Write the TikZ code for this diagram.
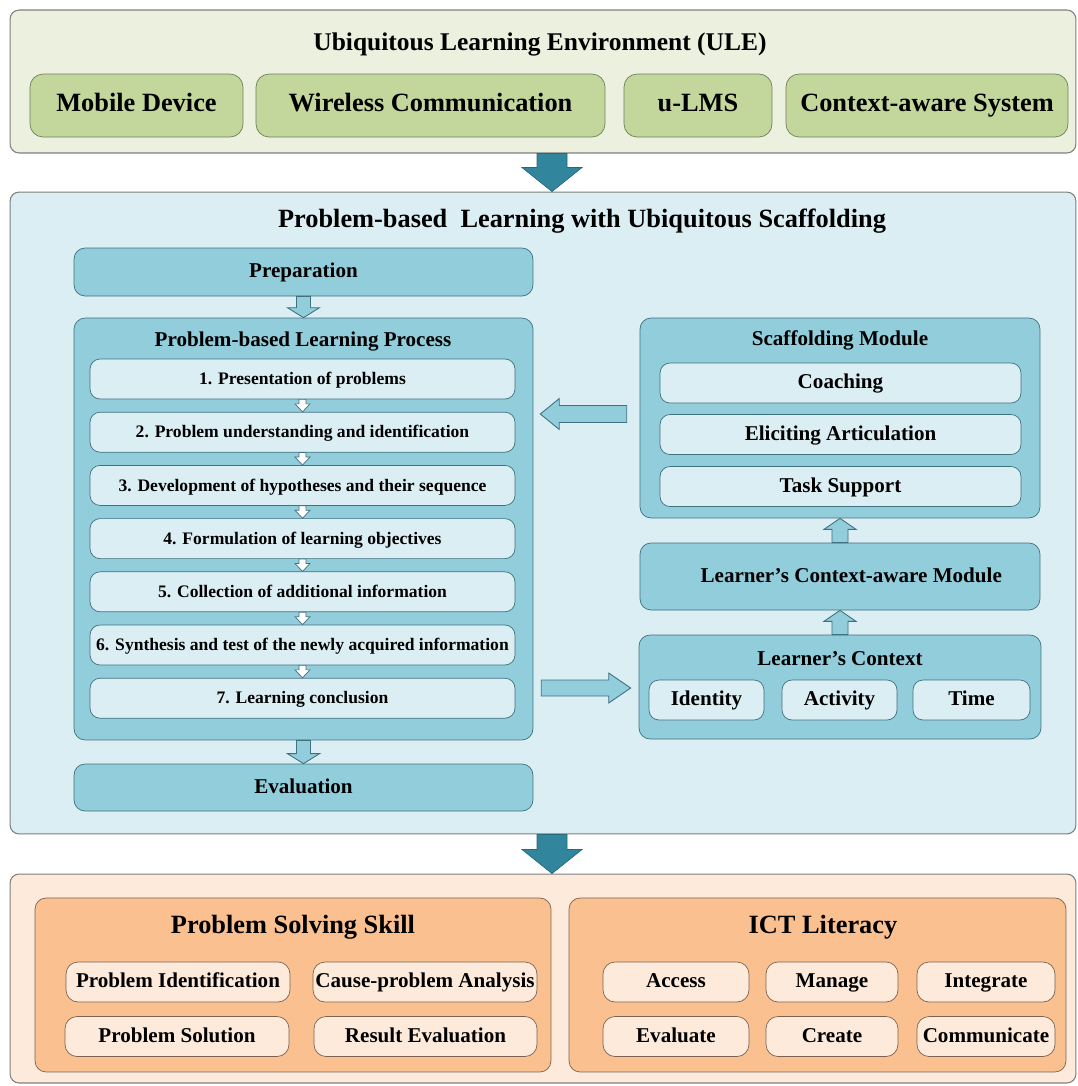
\documentclass[tikz,border=0pt]{standalone}
\usepackage{fontspec}
\setmainfont{Liberation Serif}
\usetikzlibrary{calc, positioning}
\definecolor{uleBack}{HTML}{EBF1DE}
\definecolor{uleGreen}{HTML}{C3D69B}
\definecolor{uleLine}{HTML}{6E7F5A}
\definecolor{pblBack}{HTML}{DBEEF4}
\definecolor{pblBlue}{HTML}{92CDDC}
\definecolor{pblLine}{HTML}{41707E}
\definecolor{outBack}{HTML}{FDEADA}
\definecolor{outOrange}{HTML}{FAC090}
\definecolor{outLine}{HTML}{7A6352}
\definecolor{flowTeal}{HTML}{31859C}
\definecolor{frameGray}{HTML}{7F7F7F}

% block arrow: style, from, to, shaft half width, head half width, head length
\newcommand{\blockarrow}[6]{%
  \coordinate (ba-h) at ($(#3)!#6!(#2)$);
  \draw[#1] ($(#2)!#4!90:(#3)$) -- ($(ba-h)!#4!90:(#3)$) -- ($(ba-h)!#5!90:(#3)$)
    -- (#3) -- ($(ba-h)!#5!-90:(#3)$) -- ($(ba-h)!#4!-90:(#3)$)
    -- ($(#2)!#4!-90:(#3)$) -- cycle;
}

\begin{document}
\begin{tikzpicture}[
    x=0.02cm, y=-0.02cm,
    panel/.style={draw=frameGray, rounded corners=0.18cm, line width=0.6pt},
    txt/.style={text height=0.75em, text depth=0.1em},
    ttl/.style={font=\bfseries\fontsize{15}{18}\selectfont, txt},
    sub/.style={font=\bfseries\fontsize{12}{14}\selectfont, txt},
    stp/.style={font=\bfseries\fontsize{10}{12}\selectfont, txt},
    gbox/.style={draw=uleLine, fill=uleGreen, rounded corners=0.26cm,
                 minimum height=1.26cm, ttl},
    mbox/.style={draw=pblLine, fill=pblBlue, rounded corners=0.22cm, sub},
    lbox/.style={draw=pblLine, fill=pblBack, rounded corners=0.2cm,
                 minimum height=0.8cm, inner sep=1pt},
    obox/.style={draw=outLine, fill=outOrange, rounded corners=0.22cm},
    pbox/.style={draw=outLine, fill=outBack, rounded corners=0.24cm,
                 minimum height=0.8cm, inner sep=1pt, sub},
    darr/.style={fill=flowTeal, draw=flowTeal!80!black, line width=0.4pt},
    barr/.style={fill=pblBlue, draw=pblLine, line width=0.5pt},
    warr/.style={fill=white, draw=pblLine, line width=0.4pt}
]
\useasboundingbox (0,0) rectangle (1078,1086);

% ---- ubiquitous learning environment ----
\node[panel, fill=uleBack, minimum width=21.32cm, minimum height=2.86cm] (ule) at (543,81.5) {};
\node[font=\bfseries\fontsize{14.5}{17}\selectfont, txt] (uleT) at (540,45) {Ubiquitous Learning Environment (ULE)};
\node[gbox, minimum width=4.26cm] (mob) at (136.5,105.5) {Mobile Device};
\node[gbox, minimum width=6.98cm] (wir) at (430.5,105.5) {Wireless Communication};
\node[gbox, minimum width=2.96cm] (lms) at (698,105.5) {u-LMS};
\node[gbox, minimum width=5.64cm] (cas) at (927,105.5) {Context-aware System};

% ---- problem-based learning with scaffolding ----
\node[panel, fill=pblBack, minimum width=21.32cm, minimum height=12.84cm] (mid) at (543,513) {};
\node[ttl] (midT) at (582,222) {Problem-based~ Learning with Ubiquitous Scaffolding};

\node[mbox, minimum width=9.18cm, minimum height=0.96cm] (prep) at (303.5,272) {Preparation};
\node[mbox, minimum width=9.18cm, minimum height=8.44cm] (pbl) at (303.5,529) {};
\node[sub] (pblT) at (303,341) {Problem-based Learning Process};
\foreach \i/\t in {1/{1. Presentation of problems},
                   2/{2. Problem understanding and identification},
                   3/{3. Development of hypotheses and their sequence},
                   4/{4. Formulation of learning objectives},
                   5/{5. Collection of additional information},
                   6/{6. Synthesis and test of the newly acquired information},
                   7/{7. Learning conclusion}}{%
  \node[lbox, stp, minimum width=8.5cm] (s\i) at (302.5,{379+53.2*(\i-1)}) {\t};
}
\node[mbox, minimum width=9.18cm, minimum height=0.94cm] (eval) at (303.5,787.5) {Evaluation};

\node[mbox, minimum width=8cm, minimum height=4cm] (scaf) at (840,418) {};
\node[sub] (scafT) at (840,340) {Scaffolding Module};
\node[lbox, sub, minimum width=7.22cm] (coach) at (840.5,383) {Coaching};
\node[lbox, sub, minimum width=7.22cm] (elic) at (840.5,434.5) {Eliciting Articulation};
\node[lbox, sub, minimum width=7.22cm] (task) at (840.5,486.5) {Task Support};

\node[mbox, minimum width=8cm, minimum height=1.34cm] (lcam) at (840,576.5) {\hspace{0.45cm}Learner's Context-aware Module};

\node[mbox, minimum width=8.04cm, minimum height=2.08cm] (ctx) at (840,687) {};
\node[sub] (ctxT) at (840,660) {Learner's Context};
\node[lbox, sub, minimum width=2.3cm] (iden) at (706.5,700) {Identity};
\node[lbox, sub, minimum width=2.3cm] (acti) at (839.5,700) {Activity};
\node[lbox, sub, minimum width=2.34cm] (time) at (971.5,700) {Time};

% ---- learning outcomes ----
\node[panel, fill=outBack, minimum width=21.32cm, minimum height=4.18cm] (out) at (543,978.5) {};
\node[obox, minimum width=10.32cm, minimum height=3.48cm] (pss) at (293,985) {};
\node[ttl] (pssT) at (293,928) {Problem Solving Skill};
\node[pbox, minimum width=4.48cm] (pid) at (178,982) {Problem Identification};
\node[pbox, minimum width=4.48cm] (cpa) at (425,982) {Cause-problem Analysis};
\node[pbox, minimum width=4.48cm] (psol) at (177,1036.5) {Problem Solution};
\node[pbox, minimum width=4.46cm] (rev) at (425.5,1036.5) {Result Evaluation};

\node[obox, minimum width=9.94cm, minimum height=3.48cm] (ict) at (817.5,985) {};
\node[ttl] (ictT) at (823,928) {ICT Literacy};
\node[pbox, minimum width=2.92cm] (acc) at (676,982) {Access};
\node[pbox, minimum width=2.64cm] (man) at (832,982) {Manage};
\node[pbox, minimum width=2.76cm] (intg) at (986,982) {Integrate};
\node[pbox, minimum width=2.92cm] (evl) at (676,1036.5) {Evaluate};
\node[pbox, minimum width=2.64cm] (cre) at (832,1036.5) {Create};
\node[pbox, minimum width=2.76cm] (com) at (986,1036.5) {Communicate};

% ---- block arrows ----
\coordinate (d1a) at ($(ule.south)+(9,0)$);
\coordinate (d1b) at ($(mid.north)+(9,0)$);
\blockarrow{darr}{d1a}{d1b}{0.3cm}{0.6cm}{0.48cm}
\coordinate (d2a) at ($(mid.south)+(9,0)$);
\coordinate (d2b) at ($(out.north)+(9,0)$);
\blockarrow{darr}{d2a}{d2b}{0.3cm}{0.6cm}{0.48cm}

\blockarrow{barr}{prep.south}{pbl.north}{0.14cm}{0.32cm}{0.2cm}
\blockarrow{barr}{pbl.south}{eval.north}{0.14cm}{0.32cm}{0.2cm}
\foreach \i [evaluate=\i as \j using int(\i+1)] in {1,...,6}{%
  \blockarrow{warr}{s\i.south}{s\j.north}{0.07cm}{0.15cm}{0.16cm}
}

\coordinate (la) at ($(scaf.west)+(-13,-4)$);
\coordinate (lb) at ($(pbl.east |- la)+(7,0)$);
\blockarrow{barr}{la}{lb}{0.17cm}{0.31cm}{0.38cm}
\coordinate (ra) at ($(pbl.east |- ctx.west)+(8,1)$);
\coordinate (rb) at ($(ctx.west)+(-8,1)$);
\blockarrow{barr}{ra}{rb}{0.16cm}{0.3cm}{0.44cm}

\blockarrow{barr}{ctx.north}{lcam.south}{0.16cm}{0.32cm}{0.22cm}
\blockarrow{barr}{lcam.north}{scaf.south}{0.16cm}{0.32cm}{0.22cm}
\end{tikzpicture}
\end{document}
